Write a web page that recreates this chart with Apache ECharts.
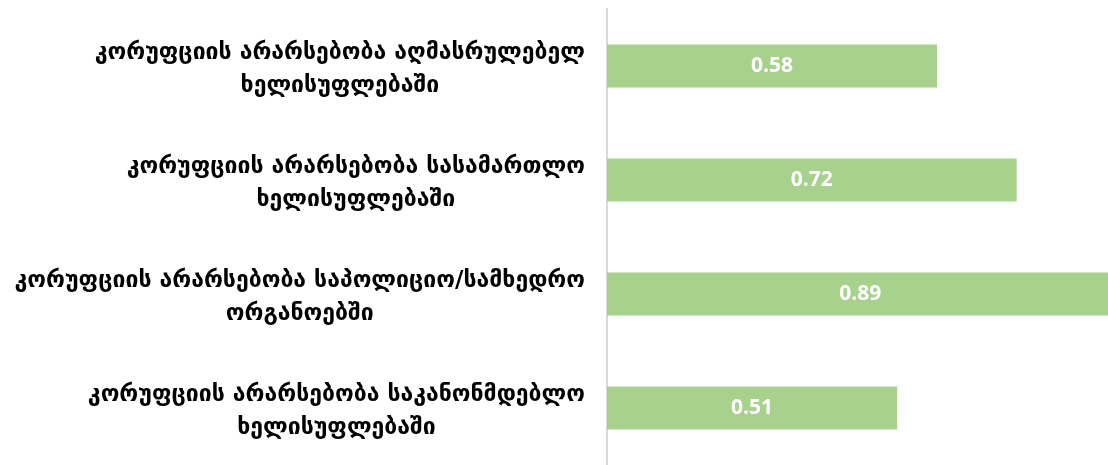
<!DOCTYPE html>
<html>
<head>
<meta charset="utf-8">
<script src="https://cdn.jsdelivr.net/npm/echarts@6/dist/echarts.min.js"></script>
<style>
  html, body { margin: 0; padding: 0; background: #fff; }
  #chart { width: 1108px; height: 465px; }
</style>
</head>
<body>
<div id="chart"></div>
<script>
  // categories (top to bottom), two lines each
  var categories = [
    'კორუფციის არარსებობა აღმასრულებელ\nხელისუფლებაში',
    'კორუფციის არარსებობა სასამართლო\nხელისუფლებაში',
    'კორუფციის არარსებობა საპოლიციო/სამხედრო\nორგანოებში',
    'კორუფციის არარსებობა საკანონმდებლო\nხელისუფლებაში'
  ];
  var values = [0.58, 0.72, 0.89, 0.51];

  var myChart = echarts.init(document.getElementById('chart'));

  // plot is cut by the right edge: 1.0 would sit ~569px right of the axis
  var option = {
    animation: false,
    grid: {
      left: 607,
      top: 9,
      right: 0,
      height: 463
    },
    xAxis: {
      type: 'value',
      min: 0,
      max: 501 / 569,
      show: false
    },
    yAxis: {
      type: 'category',
      inverse: true,
      data: categories,
      axisLine: { show: true, lineStyle: { color: '#D9D9D9', width: 2 } },
      axisTick: { show: false },
      axisLabel: {
        margin: 22,
        align: 'right',
        padding: [8, 0, 0, 0],
        formatter: function (v) {
          return v.split('\n').map(function (s) { return '{t|' + s + '}'; }).join('\n');
        },
        rich: {
          t: {
            align: 'center',
            fontFamily: 'DejaVu Sans',
            fontWeight: 'bold',
            fontSize: 23,
            lineHeight: 33,
            color: '#000'
          }
        }
      }
    },
    series: [{
      type: 'bar',
      data: values,
      barWidth: 43,
      clip: false,
      itemStyle: { color: '#A9D18E' },
      label: {
        show: true,
        position: 'inside',
        color: '#fff',
        fontFamily: 'Open Sans',
        fontWeight: 'bold',
        fontSize: 21
      }
    }]
  };

  myChart.setOption(option);
</script>
</body>
</html>
